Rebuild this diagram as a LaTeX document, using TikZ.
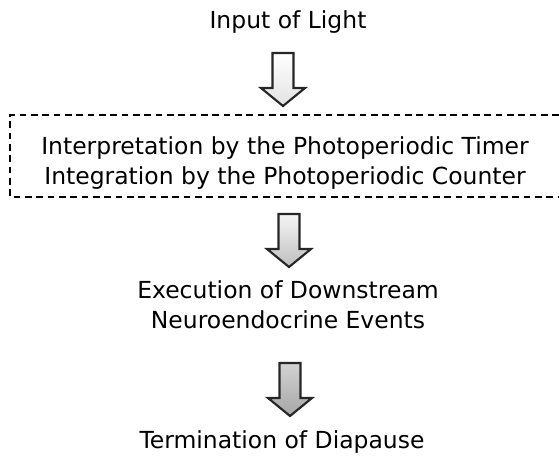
\documentclass[tikz,border=0pt]{standalone}
\usepackage{fontspec}
\setmainfont{DejaVu Sans}
\tikzset{
  pics/blockarrow/.style 2 args={code={
    \shadedraw[top color=#1, bottom color=#2, draw=black!85, line width=1.6pt, line join=miter]
      (-10.5,0) -- (10.5,0) -- (10.5,35) -- (22,35) -- (0,53) -- (-22,35) -- (-10.5,35) -- cycle;
  }}
}
\begin{document}
\begin{tikzpicture}[x=0.75pt,y=-0.75pt,font=\fontsize{17.6}{22.5}\selectfont]
\useasboundingbox (0,0) rectangle (559,463);
% texts
\node (input) at (288,22) {Input of Light};
\node[align=center] (timer) at (285,163) {Interpretation by the Photoperiodic Timer\\Integration by the Photoperiodic Counter};
\node[align=center] (events) at (288,305) {Execution of Downstream\\Neuroendocrine Events};
\node (diapause) at (282,442) {Termination of Diapause};
% dashed frame, open at the right
\draw[dash pattern=on 5pt off 3.5pt, line width=0.8pt] (559,115) -- (10,115) -- (10,197) -- (559,197);
% block arrows
\coordinate (a1) at (283,53);
\coordinate (a2) at (289,214);
\coordinate (a3) at (290,363);
\pic at (a1) {blockarrow={white}{gray!22}};
\pic at (a2) {blockarrow={gray!8}{gray!50}};
\pic at (a3) {blockarrow={gray!35}{gray!70}};
\end{tikzpicture}
\end{document}
